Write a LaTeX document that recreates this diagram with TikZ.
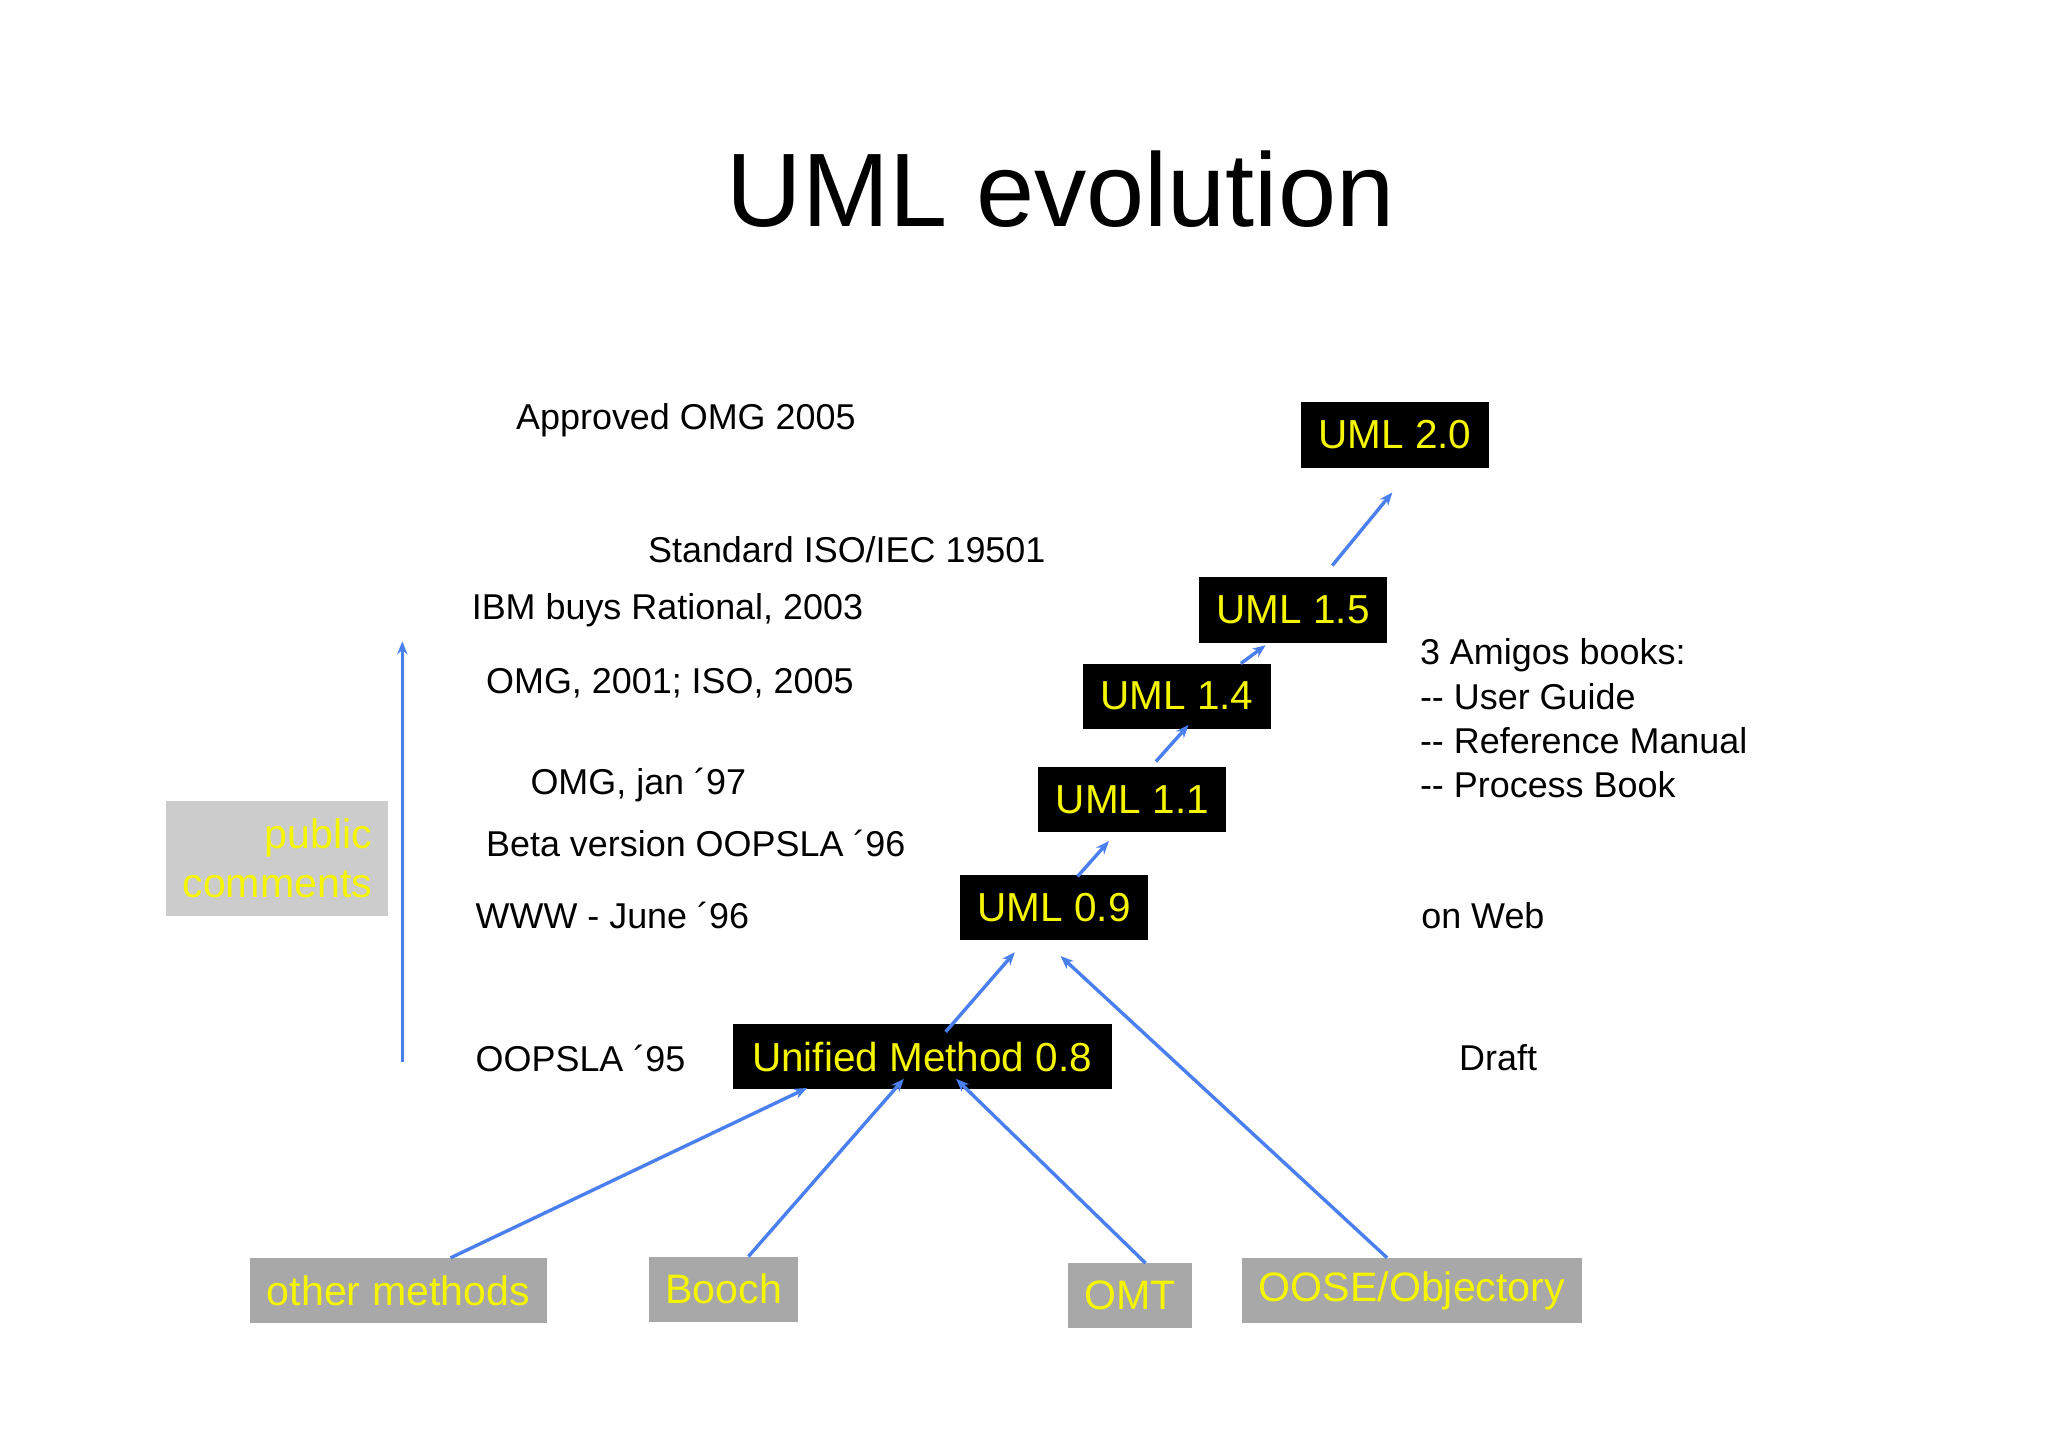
\documentclass[tikz,border=0pt]{standalone}
\usepackage{fontspec}
\setmainfont{Liberation Sans}
\usetikzlibrary{arrows.meta}
\definecolor{ablue}{HTML}{4A7FF0}
\definecolor{ayel}{HTML}{F5F500}
\definecolor{gbox}{HTML}{A8A8A8}
\definecolor{lgbox}{HTML}{CCCCCC}
\begin{document}
\begin{tikzpicture}[x=1pt,y=-1pt,
  umlbox/.style={fill=black,text=ayel,font=\fontsize{31}{36}\selectfont,minimum height=50pt,inner xsep=12pt,anchor=center},
  srcbox/.style={fill=gbox,text=ayel,font=\fontsize{31.5}{36}\selectfont,minimum height=50pt,inner xsep=10pt,anchor=center},
  lbl/.style={font=\fontsize{27.5}{33.7}\selectfont,anchor=west,inner sep=0pt},
  arr/.style={draw=ablue,line width=2.6pt,-{Stealth[length=10pt,width=8pt]}}]
\useasboundingbox[fill=white] (0,0) rectangle (1568,1108);
\node[font=\fontsize{80}{90}\selectfont] (title) at (812,145) {UML evolution};
\node[umlbox,minimum width=144pt] (u20) at (1068,333) {UML 2.0};
\node[umlbox,minimum width=144pt] (u15) at (990,467) {UML 1.5};
\node[umlbox,minimum width=144pt] (u14) at (901,533) {UML 1.4};
\node[umlbox,minimum width=144pt] (u11) at (867,612) {UML 1.1};
\node[umlbox,minimum width=144pt] (u09) at (807,695) {UML 0.9};
\node[umlbox,minimum width=290pt] (u08) at (706,809) {Unified Method 0.8};
\node[srcbox,minimum width=227pt] (other) at (305,988) {other methods};
\node[srcbox,minimum width=114pt] (booch) at (554,987) {Booch};
\node[srcbox,minimum width=95pt] (omt) at (865,992) {OMT};
\node[srcbox,minimum width=260pt] (oose) at (1081,988) {OOSE/Objectory};
\node[fill=lgbox,text=ayel,font=\fontsize{31.5}{37}\selectfont,minimum width=170pt,minimum height=88pt,align=right,text width=146pt] (pub) at (212,657) {public\\comments};
% labels
\node[lbl] (l1) at (395,322) {Approved OMG 2005};
\node[lbl] (l2) at (496,421) {Standard ISO/IEC 19501};
\node[lbl] (l3) at (361,467) {IBM buys Rational, 2003};
\node[lbl] (l4) at (372,523) {OMG, 2001; ISO, 2005};
\node[lbl] (l5) at (406,601) {OMG, jan ´97};
\node[lbl] (l6) at (372,646) {Beta version OOPSLA ´96};
\node[lbl] (l7) at (364,701) {WWW - June ´96};
\node[lbl] (l8) at (364,810) {OOPSLA ´95};
\node[lbl,align=left,anchor=north west] (amigos) at (1087,489) {3 Amigos books:\\{-}{-} User Guide\\{-}{-} Reference Manual\\{-}{-} Process Book};
\node[lbl] (web) at (1088,701) {on Web};
\node[lbl] (draft) at (1117,810) {Draft};
% connector coordinates
\coordinate (a1) at (345,963); \coordinate (b1) at (618,833);
\coordinate (a2) at (573,962); \coordinate (b2) at (692,826);
\coordinate (a3) at (877,967); \coordinate (b3) at (732,826);
\coordinate (a4) at (1062,963); \coordinate (b4) at (812,732);
\coordinate (a5) at (724,790); \coordinate (b5) at (777,729);
\coordinate (a6) at (825,671); \coordinate (b6) at (849,644);
\coordinate (a7) at (885,583); \coordinate (b7) at (910,555);
\coordinate (a8) at (950,508); \coordinate (b8) at (969,494);
\coordinate (a9) at (1020,433); \coordinate (b9) at (1066,377);
\coordinate (va) at (308,813); \coordinate (vb) at (308,491);
\foreach \i in {1,...,9} {\draw[arr] (a\i) -- (b\i);}
\draw[arr] (va) -- (vb);
\end{tikzpicture}
\end{document}
